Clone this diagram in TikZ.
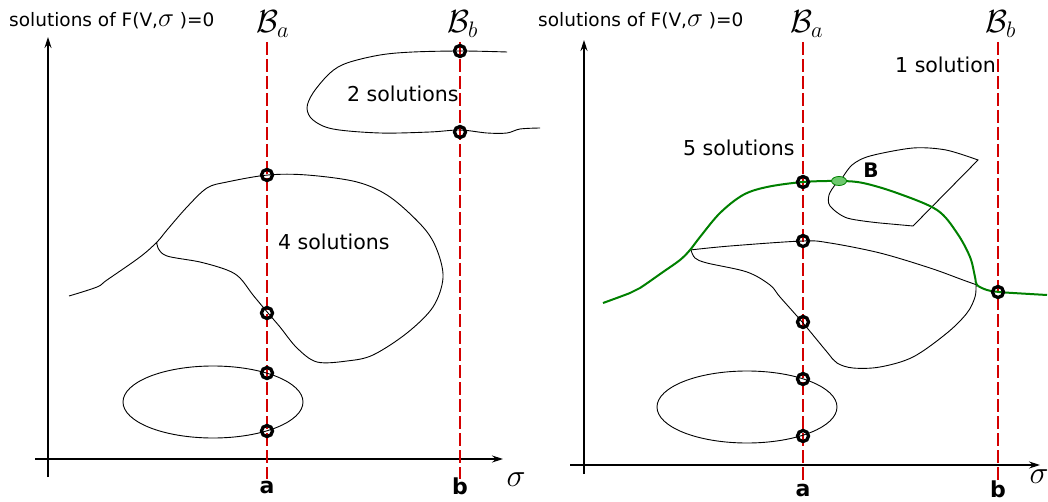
\RequirePackage{fix-cm}
\documentclass[tikz,border=0pt]{standalone}
\usepackage{fontspec}
\setmainfont{DejaVu Sans}
\usetikzlibrary{arrows.meta,shapes.geometric}
\definecolor{bred}{RGB}{212,0,0}
\definecolor{bgreen}{RGB}{0,128,0}
\definecolor{lgreen}{RGB}{110,200,110}
\newcommand{\bigsig}{{\fontsize{27}{27}\selectfont$\sigma$}}
\begin{document}
\begin{tikzpicture}[x=1pt,y=-1pt,
  axis/.style={line width=1.2pt,-{Stealth[length=11pt,width=7pt]}},
  bline/.style={bred,line width=2.4pt,dash pattern=on 13pt off 4pt},
  curve/.style={line width=0.9pt,black},
  gcurve/.style={line width=2pt,bgreen},
  sol/.style={circle,draw=black,line width=3.3pt,minimum size=11pt,inner sep=0pt},
  lbl/.style={font=\fontsize{20.5}{24}\selectfont,inner sep=0pt,anchor=base west},
  head/.style={font=\fontsize{18.5}{22}\selectfont,inner sep=0pt,anchor=base west},
  bif/.style={font=\fontsize{32}{34}\selectfont,inner sep=0pt,anchor=base west},
  tick/.style={font=\fontsize{22}{24}\selectfont\bfseries,inner sep=0pt,anchor=base},
  sig/.style={font=\fontsize{32}{34}\selectfont,inner sep=0pt}
]
\useasboundingbox (0,0) rectangle (1048,502);

% ---------------- LEFT PANEL ----------------
\coordinate (lxo) at (35,459);
\coordinate (lxe) at (503,459);
\coordinate (lyo) at (48,477);
\coordinate (lye) at (48,37);
\draw[axis] (lxo) -- (lxe);
\draw[axis] (lyo) -- (lye);

\coordinate (laT) at (267,42);
\coordinate (laB) at (267,479);
\coordinate (lbT) at (460,42);
\coordinate (lbB) at (460,479);
\draw[bline] (laT) -- (laB);
\draw[bline] (lbT) -- (lbB);

% big blob
\draw[curve] plot[smooth,tension=0.55] coordinates {
 (69,296) (97,287) (107,280) (140,257) (157,242) (167,230) (187,207) (207,188)
 (227,182) (268,175) (307,175) (357,182) (390,197) (423,227) (437,250) (443,278)
 (433,307) (407,333) (373,355) (347,361) (317,362) (297,348) (280,327) (268,313)
 (253,295) (240,278) (227,270) (200,262) (167,256) (158,248) (157,242)};
% top right blob
\draw[curve] plot[smooth,tension=0.55] coordinates {
 (507,52) (462,51) (413,52) (380,55) (347,63) (330,73) (313,93) (307,108)
 (313,120) (333,129) (380,133) (430,132) (460,130) (487,133) (507,133) (520,129) (540,128)};
% ellipse
\draw[curve] (213,402) ellipse [x radius=90,y radius=36];

\node[sol] (l1) at (267,175) {};
\node[sol] (l2) at (267,313) {};
\node[sol] (l3) at (267,373) {};
\node[sol] (l4) at (267,431) {};
\node[sol] (l5) at (460,51) {};
\node[sol] (l6) at (460,132) {};

\node[head] (lhead) at (9,27) {solutions of F(V,\bigsig\ )=0};
\node[bif] (lBa) at (256,33) {$\mathcal{B}_a$};
\node[bif] (lBb) at (447,33) {$\mathcal{B}_b$};
\node[lbl] (l4s) at (278,250) {4 solutions};
\node[lbl] (l2s) at (347,102) {2 solutions};
\node[tick] (la) at (267,493) {a};
\node[tick] (lb) at (460,494) {b};
\node[sig] (lsig) at (516,480) {$\sigma$};

% ---------------- RIGHT PANEL ----------------
\coordinate (rxo) at (570,465);
\coordinate (rxe) at (1040,465);
\coordinate (ryo) at (584,474);
\coordinate (rye) at (584,40);
\draw[axis] (rxo) -- (rxe);
\draw[axis] (ryo) -- (rye);

\coordinate (raT) at (803,42);
\coordinate (raB) at (803,481);
\coordinate (rbT) at (998,42);
\coordinate (rbB) at (998,481);
\draw[bline] (raT) -- (raB);
\draw[bline] (rbT) -- (rbB);

% ellipse
\draw[curve] (747,407) ellipse [x radius=90,y radius=36];
% black inner line
\draw[curve] plot[smooth,tension=0.55] coordinates {
 (690,250) (730,246) (803,241) (830,243) (880,253) (930,268) (963,280) (977,285)};
% black lower loop
\draw[curve] plot[smooth,tension=0.55] coordinates {
 (976,285) (975,297) (967,313) (947,333) (913,357) (880,367) (853,368) (837,363)
 (827,352) (803,323) (780,297) (770,285) (747,272) (707,263) (695,258) (691,250)};
% B loop
\draw[curve] plot[smooth,tension=0.5] coordinates {(841,180) (852,165) (870,156) (913,148) (946,150) (978,160)}
  -- (913,226)
  -- plot[smooth,tension=0.5] coordinates {(880,223) (847,218) (830,206) (829,195) (835,185) (841,180)};
% green curve
\draw[gcurve] plot[smooth,tension=0.55] coordinates {
 (603,303) (630,293) (640,288) (663,272) (680,260) (690,250) (700,237) (720,213)
 (743,195) (767,187) (803,182) (839,181) (863,183) (897,193) (937,210) (957,233)
 (970,257) (975,277) (977,285) (987,290) (999,292) (1013,293) (1047,295)};

\node[sol] (r1) at (803,182) {};
\node[sol] (r2) at (803,241) {};
\node[sol] (r3) at (803,322) {};
\node[sol] (r4) at (803,379) {};
\node[sol] (r5) at (803,436) {};
\node[sol] (r6) at (998,292) {};
\node[ellipse,draw=bgreen,fill=lgreen,line width=0.8pt,minimum width=15pt,minimum height=9pt,inner sep=0pt] (bpt) at (839,181) {};
\node[font=\fontsize{20}{24}\selectfont\bfseries,inner sep=0pt] (Blbl) at (871,170) {B};

\node[head] (rhead) at (538,27) {solutions of F(V,\bigsig\ )=0};
\node[bif] (rBa) at (790,33) {$\mathcal{B}_a$};
\node[bif] (rBb) at (985,33) {$\mathcal{B}_b$};
\node[lbl] (r5s) at (683,156) {5 solutions};
\node[lbl] (r1s) at (895,73) {1 solution};
\node[tick] (ra) at (803,496) {a};
\node[tick] (rb) at (998,497) {b};
\node[sig] (rsig) at (1039,477) {$\sigma$};
\end{tikzpicture}
\end{document}
